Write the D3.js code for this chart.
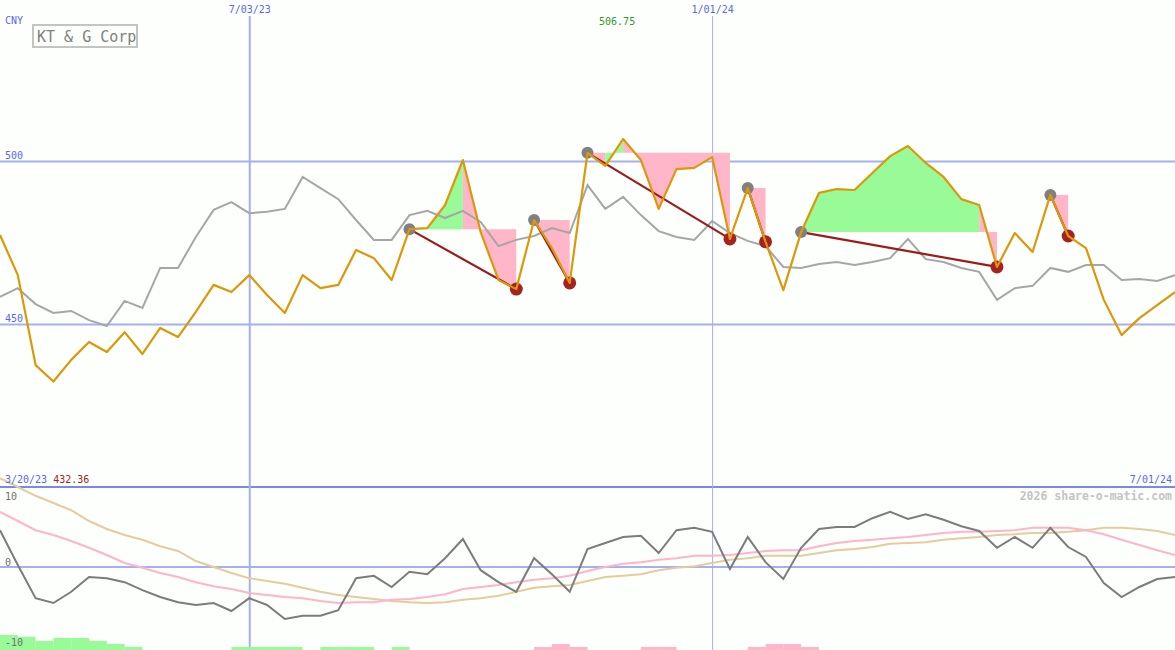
<!DOCTYPE html>
<html><head><meta charset="utf-8">
<style>body{margin:0;background:#fdfffd;overflow:hidden}svg{display:block}</style>
<script src="https://cdn.jsdelivr.net/npm/d3@7"></script>
</head><body>
<svg id="chart" width="1175" height="650"></svg>
<script>
// ---------------- data ----------------
const title = "KT & G Corp";
const currency = "CNY";
const watermark = "2026 share-o-matic.com";
const firstWeek = "2023-03-27";
const rangeStartLabel = "2023-03-20";
const closes = [477.3, 465.0, 437.4, 432.36, 439.0, 444.5, 441.4, 447.5, 440.8, 448.8,
 446.0, 453.7, 462.0, 459.8, 465.0, 458.9, 453.4, 465.0, 461.0, 462.0,
 472.7, 470.2, 463.5, 479.1, 479.4, 486.5, 500.3, 478.2, 463.5, 460.7,
 481.9, 473.3, 462.6, 502.5, 498.5, 506.75, 500.3, 485.3, 497.5, 497.9,
 501.2, 476.1, 491.7, 475.2, 460.4, 478.2, 490.2, 491.4, 491.1, 496.3,
 501.5, 504.6, 499.4, 495.1, 488.3, 486.5, 467.5, 477.9, 472.1, 489.6,
 477.0, 473.3, 457.4, 446.6, 451.8, 455.8, 459.8];
const relative = [458.3, 461.0, 456.1, 453.4, 454.0, 451.2, 449.4, 457.1, 454.9, 467.2,
 467.2, 476.7, 485.0, 487.4, 484.0, 484.4, 485.3, 495.1, 491.7, 488.3,
 481.9, 475.8, 475.8, 483.4, 484.7, 482.5, 484.7, 481.3, 473.9, 475.8,
 477.0, 479.4, 477.9, 492.6, 485.3, 489.0, 483.4, 478.5, 476.7, 475.8,
 481.6, 477.9, 475.5, 473.9, 467.5, 467.2, 468.4, 469.0, 468.1, 469.0,
 470.2, 476.1, 469.9, 469.0, 467.2, 466.0, 457.4, 461.0, 461.7, 467.2,
 466.0, 468.1, 468.1, 463.5, 463.8, 463.2, 465.0];
const momentum = [4.6, 0.25, -3.9, -4.5, -3.1, -1.25, -1.4, -1.9, -2.9, -3.75,
 -4.4, -4.75, -4.5, -5.5, -3.9, -4.75, -6.5, -6.1, -6.1, -5.4,
 -1.4, -1.1, -2.5, -0.6, -0.9, 1.1, 3.5, -0.4, -1.9, -3.1,
 1.1, -0.9, -3.1, 2.25, 3.0, 3.75, 3.9, 1.75, 4.6, 4.9,
 4.4, -0.25, 3.75, 0.6, -1.5, 2.4, 4.75, 5.0, 5.0, 6.1,
 6.9, 6.0, 6.6, 5.9, 5.1, 4.5, 2.4, 3.75, 2.4, 4.9,
 2.5, 1.25, -2.0, -3.75, -2.5, -1.5, -1.25];
const signalFast = [6.9, 5.75, 4.6, 4.0, 3.25, 2.4, 1.5, 0.5, -0.1, -0.75,
 -1.25, -1.9, -2.4, -2.75, -3.25, -3.5, -3.75, -3.9, -4.25, -4.5,
 -4.4, -4.4, -4.1, -4.0, -3.75, -3.4, -2.75, -2.5, -2.25, -1.9,
 -1.6, -1.4, -1.1, -0.5, 0.0, 0.4, 0.6, 0.9, 1.1, 1.4,
 1.4, 1.5, 1.75, 2.0, 2.1, 2.1, 2.6, 3.0, 3.25, 3.4,
 3.6, 3.75, 4.0, 4.25, 4.4, 4.4, 4.5, 4.6, 4.9, 4.9,
 4.9, 4.6, 4.1, 3.4, 2.75, 2.1, 1.5];
const signalSlow = [11.1, 10.0, 8.9, 8.0, 7.1, 5.75, 4.75, 4.0, 3.4, 2.6,
 2.0, 0.75, 0.0, -0.75, -1.4, -1.75, -2.1, -2.6, -3.1, -3.5,
 -3.75, -4.0, -4.25, -4.4, -4.5, -4.4, -4.1, -3.9, -3.6, -3.1,
 -2.6, -2.4, -2.25, -1.75, -1.25, -1.1, -0.9, -0.4, -0.1, 0.1,
 0.5, 0.9, 1.1, 1.4, 1.4, 1.4, 1.75, 2.1, 2.25, 2.5,
 2.9, 3.0, 3.1, 3.4, 3.6, 3.75, 4.0, 4.1, 4.25, 4.25,
 4.4, 4.6, 4.9, 4.9, 4.75, 4.5, 4.0];
const histogram = [5, 4.4, 3, 4, 4, 3, 2, 1, 0, 0,
 0, 0, 0, 1, 1, 1, 1, 0, 1, 1,
 1, 0, 1, 0, 0, 0, 0, 0, 0, 0,
 -1, -2, -1, 0, 0, 0, -1, -1, 0, 0,
 0, 0, -1, -2, -2, -1, 0, 0, 0, 0,
 0, 0, 0, 0, 0, 0, 0, 0, 0, 0,
 0, 0, 0, 0, 0, 0, 0];
// swings: [high week index, low week index]
const swings = [[23, 29], [30, 32], [33, 41], [42, 43], [45, 56], [59, 60]];
// week ranges whose fill is green (others in a swing are pink)
const upRuns = [[23, 26], [34, 35], [45, 55]];
const priceTicks = [450, 500];
const momentumTicks = [10, 0, -10];
const dateTicks = ["2023-07-03", "2024-01-01"];

// ---------------- setup ----------------
const W = 1175, H = 650;
const parse = d3.timeParse("%Y-%m-%d");
const start = parse(firstWeek);
const dates = closes.map((_, i) => d3.timeDay.offset(start, 7 * i));
const fmtDate = d => `${d.getMonth() + 1}/${String(d.getDate()).padStart(2, "0")}/${String(d.getFullYear()).slice(2)}`;

const x = d3.scaleTime().domain([dates[0], dates[dates.length - 1]]).range([0, W]);
const yP = d3.scaleLinear().domain([450, 500]).range([324, 161]);
const yM = d3.scaleLinear().domain([-10, 10]).range([647, 487]);
const yH = d3.scaleLinear().domain([0, 5]).range([650, 635]);

const svg = d3.select("#chart");
svg.append("rect").attr("width", W).attr("height", H).attr("fill", "#fdfffd");

const mono = "'DejaVu Sans Mono', 'Liberation Mono', monospace";
const blue = "#5868f0";
const gridBlue = "#a4b0f2";

// price grid via axis
const pAxis = svg.append("g").attr("class", "paxis")
  .call(d3.axisRight(yP).tickValues(priceTicks).tickSize(W).tickFormat(d3.format("d")));
pAxis.select(".domain").remove();
pAxis.selectAll("line").attr("stroke", gridBlue).attr("stroke-width", 2);
pAxis.selectAll("text").attr("x", 5).attr("dy", -3).attr("text-anchor", "start")
  .attr("fill", blue).style("font", `10px ${mono}`);

// momentum grid
svg.append("g").selectAll("line").data(momentumTicks.filter(d => d > -10)).join("line")
  .attr("x1", 0).attr("x2", W).attr("y1", d => yM(d)).attr("y2", d => yM(d))
  .attr("stroke", d => d === 10 ? "#7a88ee" : gridBlue).attr("stroke-width", 2);

// date verticals via axis
const dAxis = svg.append("g").attr("transform", "translate(0,16)")
  .call(d3.axisTop(x).tickValues(dateTicks.map(parse)).tickSize(-(H - 16)).tickFormat(fmtDate));
dAxis.select(".domain").remove();
dAxis.selectAll("line").attr("stroke", (d, i) => i === 0 ? gridBlue : "#a8aedc").attr("stroke-width", (d, i) => i === 0 ? 2 : 1);
dAxis.selectAll("text").attr("fill", blue).style("font", `10px ${mono}`);

// ---------------- main panel ----------------
const inUp = i => upRuns.some(([a, b]) => i >= a && i < b);
const fillArea = d3.area().x(i => x(dates[i])).y1(i => yP(closes[i]));
swings.forEach(([a, b]) => {
  const level = closes[a];
  let runStart = a;
  for (let i = a; i < b; i++) {
    const c = inUp(i);
    if (i + 1 === b || inUp(i + 1) !== c) {
      svg.append("path").datum(d3.range(runStart, i + 2))
        .attr("d", fillArea.y0(yP(level)))
        .attr("fill", c ? "#98fb98" : "#ffb6c8");
      runStart = i + 1;
    }
  }
});

const idx = d3.range(closes.length);
svg.append("path").datum(idx)
  .attr("d", d3.line().x(i => x(dates[i])).y(i => yP(relative[i])))
  .attr("fill", "none").attr("stroke", "#a6a6a6").attr("stroke-width", 2);

svg.append("g").selectAll("line").data(swings).join("line")
  .attr("x1", d => x(dates[d[0]])).attr("y1", d => yP(closes[d[0]]))
  .attr("x2", d => x(dates[d[1]])).attr("y2", d => yP(closes[d[1]]))
  .attr("stroke", "#9c1c1c").attr("stroke-width", 2.2);

svg.append("g").selectAll("circle").data(swings).join("circle")
  .attr("cx", d => x(dates[d[0]])).attr("cy", d => yP(closes[d[0]])).attr("r", 6)
  .attr("fill", "#808080");
svg.append("g").selectAll("circle").data(swings).join("circle")
  .attr("cx", d => x(dates[d[1]])).attr("cy", d => yP(closes[d[1]])).attr("r", 6.5)
  .attr("fill", "#a52222");

svg.append("path").datum(idx)
  .attr("d", d3.line().x(i => x(dates[i])).y(i => yP(closes[i])))
  .attr("fill", "none").attr("stroke", "#dc9808").attr("stroke-width", 2.2)
  .attr("stroke-linejoin", "round");

// ---------------- lower panel ----------------
const mLine = arr => d3.line().x(i => x(dates[i])).y(i => yM(arr[i]));
svg.append("path").datum(idx).attr("d", mLine(signalSlow))
  .attr("fill", "none").attr("stroke", "#e4cc9c").attr("stroke-width", 2);
svg.append("path").datum(idx).attr("d", mLine(signalFast))
  .attr("fill", "none").attr("stroke", "#ffb4c8").attr("stroke-width", 2);
svg.append("path").datum(idx).attr("d", mLine(momentum))
  .attr("fill", "none").attr("stroke", "#7c7c7c").attr("stroke-width", 2);

svg.append("g").selectAll("rect").data(idx.filter(i => histogram[i] !== 0 && i < closes.length - 1)).join("rect")
  .attr("x", i => x(dates[i])).attr("width", i => x(dates[i + 1]) - x(dates[i]))
  .attr("y", i => yH(Math.abs(histogram[i]))).attr("height", i => H - yH(Math.abs(histogram[i])))
  .attr("fill", i => histogram[i] > 0 ? "#98fb98" : "#ffb6c8");

// momentum labels
svg.append("g").selectAll("text").data(momentumTicks).join("text")
  .attr("x", 5).attr("y", d => d === 10 ? yM(d) + 13 : yM(d) - 1)
  .attr("fill", "#707070").style("font", `10px ${mono}`).text(d => d);

// ---------------- texts ----------------
svg.append("text").attr("x", 5).attr("y", 24).attr("fill", blue).style("font", `10px ${mono}`).text(currency);
svg.append("rect").attr("x", 33).attr("y", 25).attr("width", 104).attr("height", 22)
  .attr("fill", "#fdfffd").attr("stroke", "#c4c4c4").attr("stroke-width", 2);
svg.append("text").attr("x", 37).attr("y", 42).attr("fill", "#808080").style("font", `15px ${mono}`).text(title);

const maxI = d3.maxIndex(closes), minI = d3.minIndex(closes);
svg.append("text").attr("x", x(dates[maxI]) - 6).attr("y", 25).attr("text-anchor", "middle")
  .attr("fill", "#2c9a2c").style("font", `10px ${mono}`).text(closes[maxI].toFixed(2));

const bl = svg.append("text").attr("x", 5).attr("y", 483).style("font", `10px ${mono}`);
bl.append("tspan").attr("fill", blue).text(fmtDate(parse(rangeStartLabel)) + " ");
bl.append("tspan").attr("fill", "#a52222").text(closes[minI].toFixed(2));
svg.append("text").attr("x", 1172).attr("y", 483).attr("text-anchor", "end")
  .attr("fill", blue).style("font", `10px ${mono}`).text(fmtDate(dates[dates.length - 1]));
svg.append("text").attr("x", 1172).attr("y", 500).attr("text-anchor", "end")
  .attr("fill", "#c4c4c4").style("font", `bold 11.5px ${mono}`).text(watermark);
</script>
</body></html>
